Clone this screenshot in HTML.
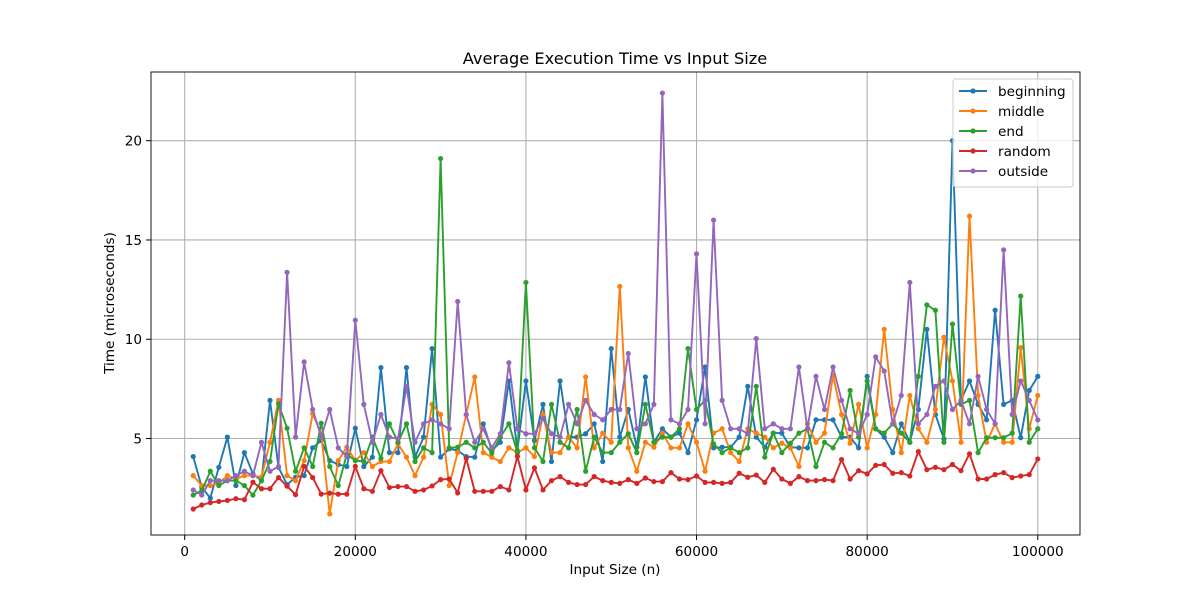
<!DOCTYPE html>
<html><head><meta charset="utf-8"><style>
body{margin:0;background:#fff;}
svg{display:block;font-family:"DejaVu Sans","Liberation Sans",sans-serif;}
</style></head><body>
<svg id="chart" width="1200" height="600" viewBox="0 0 1200 600" xmlns="http://www.w3.org/2000/svg">
<rect width="1200" height="600" fill="#fff"/>
<g id="grid"></g>
<g id="series"></g>
<rect x="151" y="72" width="929" height="463" fill="none" stroke="#000" stroke-width="0.9"/>
<g id="ticks"></g>
<text x="615" y="64" font-size="16.2" text-anchor="middle">Average Execution Time vs Input Size</text>
<text x="615" y="574" font-size="13.6" text-anchor="middle">Input Size (n)</text>
<text transform="translate(114,303) rotate(-90)" font-size="13.6" text-anchor="middle">Time (microseconds)</text>
<g id="legend"></g>
</svg>
<script>
const blue=[4.09,2.54,2.0,3.55,5.07,2.63,4.29,3.22,2.88,6.92,3.55,2.68,3.05,3.13,4.53,4.9,3.89,3.69,3.59,5.52,3.59,
4.06,8.57,4.29,4.29,8.57,4.06,5.07,9.53,4.06,4.48,4.39,4.09,4.06,5.74,4.39,4.81,7.9,4.39,7.9,4.9,6.72,3.84,7.9,
5.07,5.07,5.24,5.74,3.84,9.53,5.07,6.46,4.56,8.1,4.81,5.49,5.07,5.27,4.29,5.94,8.6,4.53,4.56,4.56,
5.07,7.63,5.07,4.56,5.27,5.27,4.56,4.53,4.53,5.94,5.94,5.94,5.07,5.07,4.53,8.13,5.49,5.07,4.29,
5.74,4.81,6.46,10.5,6.21,4.98,20.0,6.92,7.9,6.72,5.94,11.46,6.72,6.92,5.04,7.42,8.13];
const orange=[3.13,2.63,2.63,2.74,3.13,2.96,3.13,3.13,3.05,4.81,6.92,3.13,2.88,3.89,6.25,5.24,1.2,3.89,4.56,3.89,4.29,
3.59,3.84,3.84,4.73,4.06,3.13,4.06,6.72,6.21,2.63,4.3,6.2,8.1,4.29,4.06,3.84,4.53,4.29,4.53,4.09,6.21,4.29,4.29,
5.07,4.53,8.1,4.53,5.27,4.81,12.66,4.53,3.35,4.81,4.56,5.27,4.53,4.53,5.74,4.81,3.35,5.27,5.49,4.29,
3.84,5.49,5.27,5.07,4.53,4.76,4.53,3.59,5.74,4.81,5.27,8.18,6.21,4.76,6.72,4.53,6.21,10.5,6.46,
4.29,7.17,5.5,4.81,6.46,10.1,7.9,4.81,16.2,7.17,4.81,5.74,4.81,4.81,9.58,5.49,7.17];
const green=[2.15,2.37,3.35,2.63,2.88,2.88,2.63,2.15,2.88,3.84,6.75,5.52,3.35,4.53,3.59,5.77,3.59,2.63,4.2,3.89,3.84,
5.07,4.0,5.74,4.81,5.74,3.84,4.53,4.29,19.1,4.53,4.56,4.81,4.53,4.81,4.26,5.07,5.74,4.29,12.86,4.53,3.84,6.72,4.81,
4.53,6.46,3.35,5.07,4.29,4.29,4.81,5.24,4.29,6.72,4.81,5.07,5.07,5.49,9.53,6.46,6.92,4.73,4.29,4.53,
4.29,4.53,7.63,4.06,5.27,4.29,4.76,5.27,5.49,3.59,4.81,4.53,5.24,7.42,5.07,7.9,5.49,5.27,5.74,
5.27,4.81,8.13,11.73,11.46,4.81,10.76,6.72,6.92,4.29,5.04,5.04,5.04,5.27,12.17,4.81,5.49];
const red=[1.45,1.65,1.77,1.83,1.88,1.97,1.92,2.8,2.47,2.47,3.03,2.6,2.17,3.6,3.03,2.2,2.25,2.2,2.2,3.6,
2.47,2.34,3.38,2.53,2.58,2.58,2.34,2.41,2.61,2.93,2.96,2.26,4.0,2.34,2.34,2.34,2.58,2.41,4.1,2.41,3.52,2.41,
2.88,3.08,2.79,2.68,2.68,3.08,2.88,2.79,2.74,2.93,2.74,3.01,2.83,2.83,3.28,2.96,2.93,3.11,2.79,2.79,2.74,2.79,
3.25,3.05,3.16,2.79,3.45,2.96,2.74,3.08,2.88,2.88,2.93,2.88,3.94,2.96,3.38,3.22,3.65,3.69,3.25,
3.28,3.11,4.34,3.43,3.55,3.43,3.69,3.38,4.23,2.96,2.96,3.18,3.28,3.03,3.11,3.18,3.97];
const outside=[2.41,2.15,2.88,2.88,2.88,3.13,3.35,3.13,4.81,3.35,3.59,13.37,5.07,8.86,6.46,5.07,6.46,4.53,4.09,10.96,6.72,
4.81,6.21,5.07,4.98,7.63,4.81,5.74,5.94,5.74,5.49,11.9,6.21,4.81,5.49,4.53,5.24,8.82,5.49,5.24,5.24,6.0,5.24,5.07,
6.72,5.74,6.92,6.21,5.94,6.46,6.46,9.28,5.49,5.74,6.72,22.4,5.94,5.74,6.46,14.3,5.74,16.0,6.92,5.49,
5.49,5.24,10.03,5.49,5.74,5.49,5.49,8.6,5.49,8.13,6.46,8.6,6.92,5.49,5.24,6.21,9.11,8.4,5.74,
7.17,12.86,5.74,6.21,7.63,7.9,6.46,6.92,5.74,8.13,6.46,5.74,14.5,6.21,7.9,6.92,5.94];
const seriesNames=["beginning","middle","end","random","outside"];
const seriesColors=["#1f77b4","#ff7f0e","#2ca02c","#d62728","#9467bd"];
const xTicks=[0,20000,40000,60000,80000,100000];
const yTicks=[5,10,15,20];

const NS="http://www.w3.org/2000/svg";
const L=151,T=72,W=929,H=463;
const allSeries=[blue,orange,green,red,outside];
const n=blue.length;
const xs=[];for(let i=0;i<n;i++)xs.push((i+1)*1000);
const xmin0=xs[0],xmax0=xs[n-1];
let ymn=Infinity,ymx=-Infinity;allSeries.forEach(s=>s.forEach(v=>{ymn=Math.min(ymn,v);ymx=Math.max(ymx,v);}));
const xpad=(xmax0-xmin0)*0.05,ypad=(ymx-ymn)*0.05;
const xmin=xmin0-xpad,xmax=xmax0+xpad,ymin=ymn-ypad,ymax=ymx+ypad;
const X=v=>L+(v-xmin)/(xmax-xmin)*W;
const Y=v=>T+H-(v-ymin)/(ymax-ymin)*H;
function mk(tag,attrs,parent){const e=document.createElementNS(NS,tag);for(const k in attrs)e.setAttribute(k,attrs[k]);parent.appendChild(e);return e;}
const grid=document.getElementById('grid'),ticks=document.getElementById('ticks');
xTicks.forEach(t=>{
  const x=X(t);
  const g=mk('line',{x1:x,x2:x,y1:T,y2:T+H,stroke:'#b0b0b0','stroke-width':1.1},grid);
  
  
  const tk=mk('line',{x1:x,x2:x,y1:T+H,y2:T+H+5,stroke:'#000'},ticks);
  
  
  const tl=mk('text',{x:x,y:T+H+21,'font-size':13.6,'text-anchor':'middle'},ticks);
  tl.textContent=String(t);
  
  
});
yTicks.forEach(t=>{
  const y=Y(t);
  const g=mk('line',{x1:L,x2:L+W,y1:y,y2:y,stroke:'#b0b0b0','stroke-width':1.1},grid);
  
  
  const tk=mk('line',{x1:L-5,x2:L,y1:y,y2:y,stroke:'#000'},ticks);
  
  
  const tl=mk('text',{x:L-9,y:y+5,'font-size':13.6,'text-anchor':'end'},ticks);
  tl.textContent=String(t);
  
  
});
const sg=document.getElementById('series');
allSeries.forEach((s,k)=>{
  const g=mk('g',{},sg);
  
  
  const pts=s.map((v,i)=>X(xs[i]).toFixed(1)+','+Y(v).toFixed(1)).join(' ');
  const pl=mk('polyline',{points:pts,fill:'none',stroke:seriesColors[k],'stroke-width':1.9,'stroke-linejoin':'round'},g);
  
  
  s.forEach((v,i)=>{
    const c=mk('circle',{cx:X(xs[i]),cy:Y(v),r:2.6,fill:seriesColors[k]},g);
    
    
  });
});
const lg=document.getElementById('legend');
const box=mk('rect',{x:953,y:79,width:120,height:108,rx:3,fill:'#fff','fill-opacity':0.8,stroke:'#ccc'},lg);


seriesNames.forEach((nm,k)=>{
  const y=91+k*20;
  const e=mk('g',{},lg);
  
  
  mk('line',{x1:959,x2:987,y1:y,y2:y,stroke:seriesColors[k],'stroke-width':1.9},e);
  mk('circle',{cx:973,cy:y,r:2.6,fill:seriesColors[k]},e);
  const t=mk('text',{x:998,y:y+5,'font-size':13.6},e);
  t.textContent=nm;
});
</script>
</body></html>
